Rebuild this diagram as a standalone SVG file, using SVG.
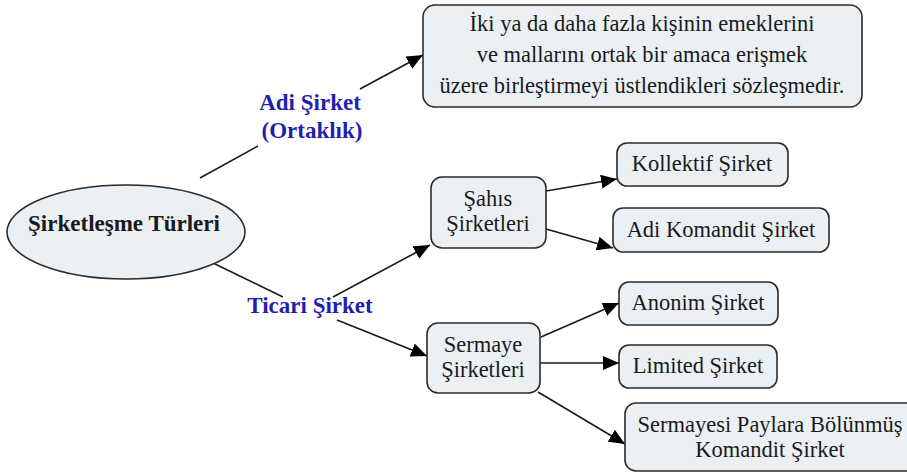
<svg xmlns="http://www.w3.org/2000/svg" width="907" height="474" viewBox="0 0 907 474">
<defs>
<marker id="ah" markerUnits="userSpaceOnUse" markerWidth="18" markerHeight="14" refX="16" refY="7" orient="auto">
<path d="M0,0 L16,7 L0,14 z" fill="#000"/>
</marker>
</defs>
<style>
.box{fill:#eaf0f4;stroke:#2b2b2b;stroke-width:1.6}
text{font-family:'Liberation Serif','DejaVu Serif',serif}
.t{font-size:22.5px;fill:#1a1a1a;text-anchor:middle}
.b{font-weight:bold;font-size:23px}
.lbl{font-size:23px;font-weight:bold;fill:#1f1fb0;text-anchor:middle}
.c{stroke:#1a1a1a;stroke-width:1.6;fill:none}
.a{marker-end:url(#ah)}
</style>
<rect width="907" height="474" fill="#fff"/>
<g id="connectors" font-family="Liberation Serif, serif">
<line class="c" x1="200" y1="178" x2="258" y2="146"/>
<line class="c a" x1="360" y1="89" x2="423" y2="55"/>
<line class="c" x1="213" y1="263" x2="283" y2="297"/>
<line class="c a" x1="333" y1="297" x2="430" y2="245"/>
<line class="c a" x1="337" y1="320" x2="427" y2="356"/>
<line class="c a" x1="546" y1="191" x2="617" y2="179"/>
<line class="c a" x1="546" y1="229" x2="613" y2="248"/>
<line class="c a" x1="541" y1="337" x2="619" y2="303"/>
<line class="c a" x1="540" y1="363" x2="619" y2="363"/>
<line class="c a" x1="538" y1="392" x2="625" y2="444"/>
<text class="lbl" x="310" y="110">Adi Şirket</text>
<text class="lbl" x="312" y="138">(Ortaklık)</text>
<text class="lbl" x="310" y="313">Ticari Şirket</text>
</g>
<g id="root" font-family="Liberation Serif, serif">
<ellipse class="box" cx="126" cy="232" rx="119" ry="47"/>
<text class="t b" x="124" y="231">Şirketleşme  Türleri</text>
</g>
<g id="adi-def" font-family="Liberation Serif, serif">
<rect class="box" x="423" y="5" width="439" height="102" rx="12"/>
<text class="t" x="642" y="31">İki ya da daha fazla kişinin emeklerini</text>
<text class="t" x="642" y="62">ve mallarını ortak bir amaca erişmek</text>
<text class="t" x="642" y="93">üzere birleştirmeyi üstlendikleri sözleşmedir.</text>
</g>
<g id="sahis" font-family="Liberation Serif, serif">
<rect class="box" x="431" y="177" width="115" height="71" rx="11"/>
<text class="t" x="488" y="206">Şahıs</text>
<text class="t" x="488" y="231">Şirketleri</text>
</g>
<g id="kollektif" font-family="Liberation Serif, serif">
<rect class="box" x="617" y="143" width="171" height="43" rx="10"/>
<text class="t" x="702" y="171">Kollektif  Şirket</text>
</g>
<g id="adi-komandit" font-family="Liberation Serif, serif">
<rect class="box" x="613" y="208" width="216" height="44" rx="10"/>
<text class="t" x="721" y="237">Adi Komandit Şirket</text>
</g>
<g id="sermaye" font-family="Liberation Serif, serif">
<rect class="box" x="427" y="323" width="113" height="70" rx="11"/>
<text class="t" x="483" y="352">Sermaye</text>
<text class="t" x="483" y="377">Şirketleri</text>
</g>
<g id="anonim" font-family="Liberation Serif, serif">
<rect class="box" x="619" y="282" width="159" height="43" rx="10"/>
<text class="t" x="698" y="310">Anonim Şirket</text>
</g>
<g id="limited" font-family="Liberation Serif, serif">
<rect class="box" x="619" y="345" width="158" height="43" rx="10"/>
<text class="t" x="698" y="373">Limited Şirket</text>
</g>
<g id="spbk" font-family="Liberation Serif, serif">
<rect class="box" x="625" y="403" width="300" height="68" rx="11"/>
<text class="t" x="770" y="432">Sermayesi Paylara Bölünmüş</text>
<text class="t" x="770" y="457">Komandit Şirket</text>
</g>
</svg>
